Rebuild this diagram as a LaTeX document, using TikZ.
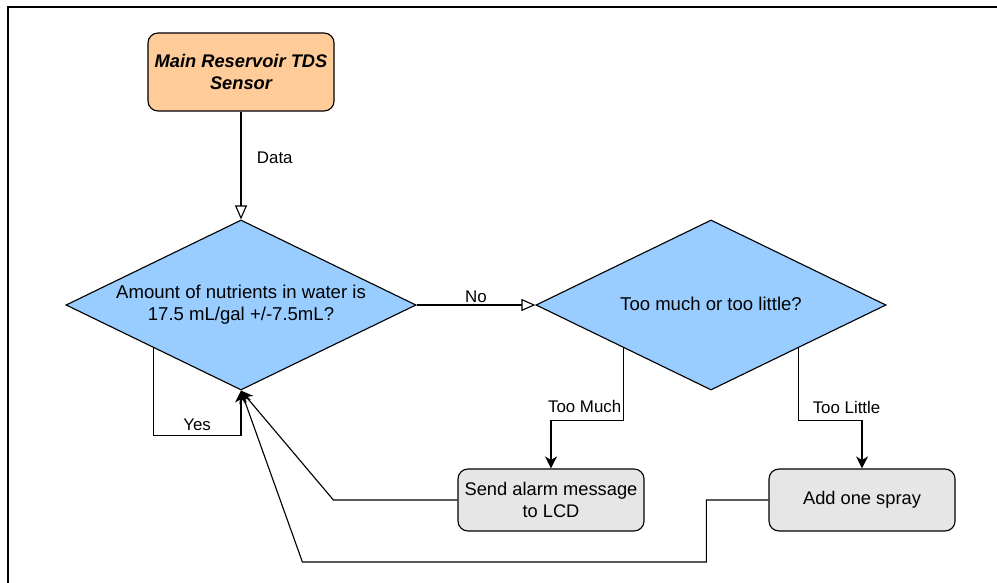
\documentclass[tikz,border=0pt]{standalone}
\usepackage{fontspec}
\setmainfont{Liberation Sans}
\usepackage{xcolor}
\usepackage{tikz}
\usetikzlibrary{arrows.meta, positioning, shapes.geometric, calc}
\definecolor{sensorfill}{HTML}{FFCC99}
\definecolor{decfill}{HTML}{99CCFF}
\definecolor{actfill}{HTML}{E6E6E6}

\begin{document}
\begin{tikzpicture}[x=0.025cm, y=-0.025cm, line width=0.8pt,
  box/.style={draw, rounded corners=0.25cm, minimum width=4.65cm, align=center, font=\fontsize{13}{15.6}\selectfont},
  decision/.style={draw, diamond, fill=decfill, minimum width=8.75cm, minimum height=4.25cm, inner sep=0pt},
  dectext/.style={align=center, font=\fontsize{13.2}{15.6}\selectfont},
  lbl/.style={font=\fontsize{12}{14}\selectfont, inner sep=1pt},
  openhead/.style={-{Triangle[open, length=3.5mm, width=3mm]}},
  fullhead/.style={-{Stealth[length=3mm, width=3mm, inset=0.9mm]}}]
\useasboundingbox (0,0) rectangle (997,583);
\draw[line width=1.6pt] (8,583) -- (8,7) -- (997,7);
\node[box, fill=sensorfill, minimum height=1.95cm, font=\fontsize{13}{15.6}\selectfont\bfseries\itshape] (sensor) at (241,72) {Main Reservoir TDS\\Sensor};
\node[decision, label={[dectext]center:Amount of nutrients in water is\\17.5 mL/gal +/-7.5mL?}] (check) at (241,305) {};
\node[decision, label={[dectext, yshift=1pt]center:Too much or too little?}] (amount) at (711,305) {};
\node[box, fill=actfill, minimum height=1.55cm] (alarm) at (551,500) {Send alarm message\\to LCD};
\node[box, fill=actfill, minimum height=1.55cm] (spray) at (862,500) {Add one spray};
\draw[openhead] (sensor) -- node[lbl, pos=0.43, right=0.35cm] {Data} (check);
\draw[openhead] (check) -- node[lbl, above] {No} (amount);
\draw[fullhead] ($(check.west)!0.5!(check.south)$) -- ++(0,88) -| node[lbl, pos=0.25, above=2pt] {Yes} (check.south);
\draw[fullhead] ($(amount.west)!0.5!(amount.south)$) -- node[lbl, pos=0.81, left] {Too Much} ++(0,73) -| (alarm.north);
\draw[fullhead] ($(amount.east)!0.5!(amount.south)$) -- node[lbl, pos=0.82, right=0.3cm] {Too Little} ++(0,73) -| (spray.north);
\draw[fullhead] (alarm.west) -- ++(-124,0) -- (check.south);
\draw[fullhead] (spray.west) -- ++(-62,0) -- ++(0,62) -- ++(-404,0) -- (check.south);
\end{tikzpicture}
\end{document}
